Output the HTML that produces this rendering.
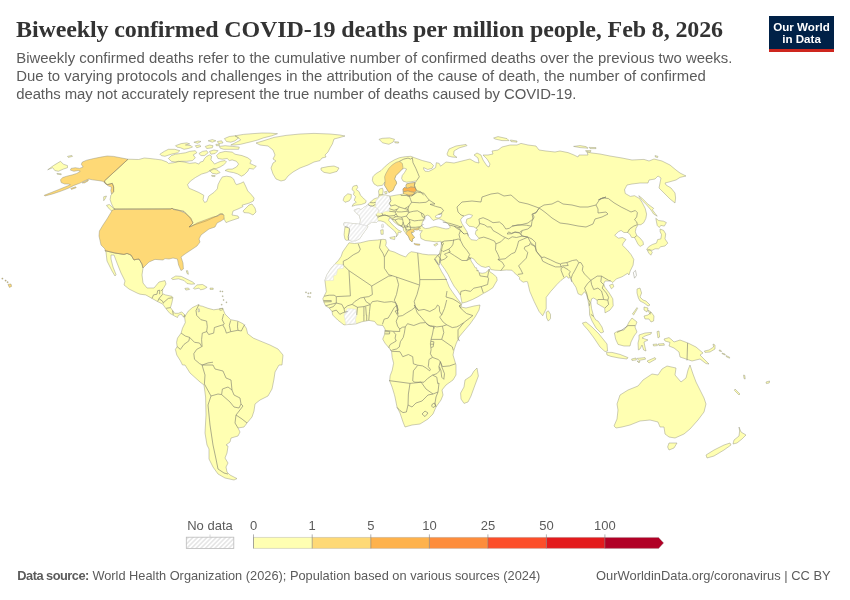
<!DOCTYPE html>
<html><head><meta charset="utf-8">
<style>
html,body{margin:0;padding:0;background:#fff;}
body{width:850px;height:600px;position:relative;overflow:hidden;font-family:"Liberation Sans",sans-serif;}
#title{position:absolute;left:16px;top:14.6px;letter-spacing:-0.12px;font-family:"Liberation Serif",serif;font-weight:bold;font-size:24px;color:#333;white-space:nowrap;line-height:28px;}
#sub{position:absolute;left:16.2px;top:49.4px;font-size:14.9px;line-height:18px;color:#5b5b5b;white-space:nowrap;}
#logo{position:absolute;left:769px;top:16px;width:65px;height:33px;background:#002147;border-bottom:3px solid #ce261e;color:#fff;font-weight:bold;font-size:11.6px;line-height:12px;text-align:center;}
#foot{position:absolute;left:17.3px;top:568.4px;font-size:12.8px;color:#5b5b5b;white-space:nowrap;}
#foot2{position:absolute;right:19.4px;top:568.4px;font-size:12.9px;color:#5b5b5b;white-space:nowrap;}
svg{position:absolute;left:0;top:0;}
</style></head><body>
<div id="title">Biweekly confirmed COVID-19 deaths per million people, Feb 8, 2026</div>
<div id="sub"><span id="s1" style="letter-spacing:0.019px">Biweekly confirmed deaths refer to the cumulative number of confirmed deaths over the previous two weeks.</span><br><span id="s2" style="letter-spacing:0.017px">Due to varying protocols and challenges in the attribution of the cause of death, the number of confirmed</span><br><span id="s3" style="letter-spacing:-0.054px">deaths may not accurately represent the true number of deaths caused by COVID-19.</span></div>
<div id="logo"><div style="margin-top:5px">Our World<br>in Data</div></div>
<svg width="850" height="600" viewBox="0 0 850 600">
<!--MAP-->
<g stroke="#8f8f7c" stroke-width="0.45" stroke-linejoin="round">
<path fill="#ffffb2" d="M47.7 169.8L53.4 165.6L60.5 161.3L63.3 164.2L67.5 165.6L67.5 167.7L63.3 169.1L58.3 171.3L54.8 170.5L52.7 167.7ZM67.5 156.4L71.8 155.4L72.5 156.4L68.3 157.4ZM56.9 173.4L61.2 173.8L61.2 174.7L57.2 174.2ZM128.0 159.2L138.7 159.5L144.3 158.0L150.0 158.5L155.7 159.2L161.3 159.9L167.0 162.0L168.4 163.4L174.1 162.7L178.3 161.3L184.0 162.0L189.7 163.4L195.3 162.7L198.9 164.1L200.3 162.0L203.1 161.3L204.5 158.5L206.7 156.3L209.5 154.9L211.6 156.3L210.9 159.9L213.0 162.0L214.5 164.1L217.3 162.7L220.8 161.3L225.1 160.6L226.5 162.0L223.7 164.8L220.1 167.0L216.6 168.4L213.8 169.1L210.9 170.5L206.7 172.6L201.7 174.0L195.3 177.6L190.4 181.1L187.5 184.7L189.0 188.2L193.9 190.3L198.9 192.5L203.8 195.3L203.1 199.6L204.5 202.4L206.7 201.7L208.8 196.0L213.8 192.5L217.3 188.9L218.0 184.7L220.1 180.4L222.3 176.9L226.5 176.2L230.8 176.9L233.6 179.0L235.0 182.5L236.4 184.7L240.7 183.3L243.5 181.8L245.6 186.1L247.8 191.0L251.3 194.6L254.1 198.1L253.4 201.0L249.2 203.1L242.1 205.2L243.0 206.6L238.0 209.0L233.0 211.0L232.0 215.0L238.0 216.0L239.0 218.0L230.0 221.0L226.0 222.6L224.0 219.0L223.0 214.0L220.0 214.0L217.0 216.0L206.0 221.0L194.0 225.0L189.0 227.0L193.0 223.0L190.0 218.0L184.0 211.4L173.0 209.0L172.0 208.0L171.0 209.0L114.0 209.0L115.0 209.5L113.6 208.1L111.5 203.8L110.1 199.6L110.8 195.3L113.6 191.8L113.6 186.8L112.2 183.3L110.1 184.0L107.2 184.7L105.1 183.3L104.4 180.9ZM243.0 211.0L249.0 205.0L252.0 204.0L255.0 208.0L256.0 212.0L253.0 215.0L249.0 213.0L244.0 212.6ZM103.7 196.8L106.5 196.0L105.1 198.9L103.7 200.7ZM106.5 205.3L109.3 204.5L115.0 209.5L114.3 212.3L110.8 210.2L107.9 207.4ZM345.0 136.0L338.0 138.0L334.0 139.0L332.4 144.0L330.0 148.0L328.0 152.0L325.0 155.0L326.0 157.0L322.0 158.0L320.0 160.6L314.0 162.0L308.0 165.0L300.0 168.0L293.0 172.0L288.0 176.0L285.0 180.0L281.0 181.0L276.0 179.0L273.0 174.0L271.0 168.0L273.0 163.0L276.0 161.0L273.0 159.0L275.0 155.0L273.0 150.0L268.0 146.0L260.0 145.0L256.0 143.0L264.0 140.6L274.0 137.4L286.0 135.4L300.0 134.0L314.0 133.4L330.0 134.0L340.0 135.0ZM321.0 168.0L328.0 166.6L334.0 166.0L339.0 168.0L337.0 171.4L330.0 173.4L324.0 172.4L321.0 170.0ZM105.0 250.6L115.0 253.0L124.0 254.4L127.0 253.4L131.0 255.0L134.0 260.0L136.0 259.4L139.0 259.0L142.0 264.0L143.0 268.0L142.0 275.0L143.0 283.0L147.0 288.0L154.0 288.0L159.0 282.0L165.0 280.6L166.0 284.0L163.0 289.0L161.0 291.0L162.7 289.2L162.4 293.5L165.5 294.9L171.9 296.3L172.9 297.7L171.9 302.7L170.5 307.6L172.6 310.5L174.7 313.3L178.3 313.3L181.8 311.9L184.6 314.7L185.3 315.7L184.6 317.1L183.2 316.8L181.1 314.0L178.3 315.4L177.5 317.5L174.7 316.1L169.8 313.3L166.2 309.0L162.7 304.1L157.0 301.3L152.0 298.4L145.7 294.9L140.0 294.2L137.0 293.0L129.0 289.0L124.0 285.0L125.0 281.0L121.0 273.0L117.0 263.0L114.0 255.0L111.0 255.0L111.0 259.0L113.0 267.0L116.0 274.6L115.0 276.0L112.0 271.0L109.0 265.0L107.0 261.0L106.0 252.0ZM185.3 315.7L188.2 311.2L192.4 307.6L196.7 305.5L198.8 304.4L199.8 305.8L202.3 306.2L208.0 308.3L213.7 309.8L219.3 309.0L222.9 308.3L223.6 310.5L225.0 314.0L230.7 319.7L237.8 321.1L243.4 323.9L246.3 328.2L247.7 333.8L253.3 338.1L260.0 340.9L270.0 345.0L278.0 349.0L283.0 355.0L282.0 365.0L279.0 365.0L275.0 372.0L274.0 379.0L272.0 389.0L268.0 396.0L260.0 400.0L255.0 404.0L254.0 411.0L252.0 417.0L247.0 423.0L244.0 427.0L238.0 428.0L240.0 432.0L238.0 436.0L231.0 438.0L230.0 442.0L226.0 445.0L228.0 446.0L227.0 453.0L225.0 458.0L228.0 463.0L226.0 467.0L227.0 472.0L230.0 475.0L237.0 478.6L234.0 480.0L225.0 478.0L218.0 474.0L213.0 467.0L209.0 459.0L209.0 449.0L207.0 445.0L205.0 433.0L206.0 415.0L205.6 397.0L204.0 385.0L200.0 382.0L190.0 373.0L185.0 365.0L182.5 365.0L180.4 360.8L176.8 355.1L175.4 349.4L177.1 346.6L176.6 342.3L177.5 338.1L181.1 333.1L182.5 328.2L185.3 322.5L184.6 317.1ZM349.0 242.8L354.7 243.5L360.3 242.8L368.8 240.7L377.3 240.0L383.0 239.3L385.8 239.7L386.3 242.8L385.6 245.6L388.7 249.5L389.4 250.6L394.3 252.0L400.0 254.8L405.7 257.0L408.5 253.4L411.3 251.7L417.0 252.7L422.7 254.1L428.3 254.8L435.0 254.8L437.9 255.0L439.3 254.0L438.0 255.0L434.8 258.9L438.4 265.3L441.7 271.7L444.9 277.0L447.1 281.8L449.2 287.1L452.4 291.9L456.7 297.8L460.4 302.6L461.7 303.9L461.0 307.0L466.0 308.0L474.0 306.0L480.0 305.0L479.0 310.0L475.0 317.0L470.0 324.0L464.0 331.0L459.0 337.0L456.0 344.0L454.0 350.0L453.0 355.0L456.0 365.0L456.0 375.0L453.0 380.0L446.0 385.0L442.0 390.0L443.0 395.0L441.0 400.0L436.0 407.0L433.0 414.0L428.0 419.0L420.0 424.0L412.0 425.0L405.0 427.0L403.0 422.0L400.0 413.0L397.0 407.0L395.0 397.0L394.3 394.3L392.2 387.3L389.7 380.9L390.1 375.9L392.2 370.3L393.6 363.2L392.2 357.5L391.5 351.1L388.7 347.6L385.1 343.3L382.7 339.1L384.4 334.8L385.1 329.2L383.0 325.6L377.3 324.9L374.5 321.4L368.8 320.4L361.8 321.8L356.1 323.8L344.0 324.9L337.7 320.0L332.7 315.0L332.0 311.5L329.2 308.0L325.6 305.8L324.2 303.0L322.8 298.8L324.2 295.9L326.3 291.7L325.6 286.0L324.9 280.3L327.0 274.7L330.6 269.0L334.8 264.0L338.4 260.5L341.2 256.3L342.6 252.0L345.5 247.8ZM477.0 368.0L478.4 376.0L475.0 385.0L471.0 396.0L468.0 402.0L464.0 403.4L461.0 399.0L460.6 393.0L464.0 387.0L465.0 380.0L471.0 376.0L474.0 371.0ZM351.4 241.0L348.7 240.1L346.3 240.3L345.0 239.3L344.1 234.8L344.5 230.5L345.0 226.8L343.7 224.7L344.1 222.8L348.7 223.1L354.6 223.7L359.9 224.3L360.5 219.9L359.4 215.6L355.7 212.4L354.1 210.3L356.7 209.2L358.9 208.7L361.0 209.7L363.7 207.6L366.3 206.0L367.9 204.4L370.1 202.3L373.8 199.1L376.5 198.0L378.1 198.0L379.0 195.0L378.5 191.0L379.7 188.9L382.5 188.2L383.2 191.0L382.5 194.5L387.5 195.5L390.3 196.2L396.7 195.0L400.9 194.5L403.5 193.8L403.0 191.7L403.0 188.9L404.5 187.5L406.6 188.2L405.9 186.0L406.6 183.9L410.1 183.2L415.1 182.5L416.5 181.1L415.1 181.1L410.8 181.8L406.6 182.2L403.0 181.1L401.6 178.3L402.3 175.4L404.5 172.6L406.6 169.0L404.5 168.3L402.3 169.0L399.5 171.9L396.0 175.4L394.5 179.0L396.0 181.1L396.7 183.2L394.5 186.8L393.1 190.3L388.9 192.4L386.8 188.9L384.6 185.3L385.1 181.8L382.5 185.3L377.5 186.0L374.0 183.9L372.3 180.4L372.9 176.8L375.4 174.0L381.1 170.5L385.3 166.2L389.6 162.7L394.5 159.8L399.5 157.7L405.2 156.7L410.8 156.3L414.4 157.7L422.2 160.5L430.7 162.7L433.5 165.5L432.1 168.3L427.8 169.5L423.6 167.6L423.6 169.0L425.0 171.2L428.6 171.5L432.1 169.8L435.6 167.6L436.3 162.7L439.2 163.4L440.6 166.2L446.0 162.0L454.0 163.0L462.0 161.0L470.0 159.0L475.0 162.0L479.0 163.0L478.0 158.0L474.0 155.0L477.0 153.0L481.0 155.0L483.0 160.0L487.0 166.0L489.0 167.0L490.0 164.0L487.0 159.0L483.0 155.0L488.0 155.0L493.0 154.0L492.0 151.0L498.0 150.0L502.0 147.0L510.0 145.0L517.0 145.0L521.0 143.4L528.0 145.0L536.0 146.0L539.0 150.0L546.0 151.0L555.0 152.0L560.0 151.0L568.0 152.6L574.0 155.0L578.0 157.0L579.0 155.0L588.0 155.0L587.0 152.0L592.0 153.0L600.0 154.0L610.0 156.0L622.0 158.0L632.0 160.0L644.0 159.4L649.0 161.0L654.0 159.0L662.0 161.0L670.0 165.0L676.0 170.0L680.0 173.0L686.0 176.0L680.0 177.4L676.0 180.0L669.0 182.0L665.0 183.0L666.0 185.0L671.0 188.0L675.0 193.0L675.6 198.0L675.0 203.0L670.0 199.0L664.0 193.0L659.0 188.0L660.0 183.0L661.0 178.0L658.0 176.0L655.0 179.0L649.0 180.0L648.0 183.0L640.0 183.0L632.0 184.0L627.0 185.0L624.4 190.0L624.6 190.0L625.3 193.5L630.3 196.4L634.5 195.7L639.5 198.5L642.3 202.8L645.2 208.4L646.6 214.1L645.9 218.3L643.8 222.6L640.9 224.7L638.1 224.7L636.0 228.3L635.3 231.8L636.7 235.3L640.2 238.2L643.0 241.7L643.5 244.5L640.2 246.4L638.1 244.5L636.0 240.3L634.5 237.5L631.7 237.5L629.6 233.9L627.5 232.5L623.9 232.5L621.1 230.4L618.3 231.8L614.7 235.3L618.3 238.2L622.5 237.5L626.0 239.6L623.2 243.1L622.5 245.3L626.8 249.5L631.0 254.5L633.8 259.4L633.1 265.1L630.3 270.8L628.9 275.0L627.7 273.3L622.0 276.8L616.3 278.9L612.8 282.5L610.7 281.0L605.0 281.0L603.6 283.9L605.0 287.4L609.3 293.1L612.8 298.8L613.2 305.8L610.0 310.1L605.0 312.9L604.7 308.0L600.8 305.8L597.2 303.7L597.2 300.2L593.7 298.0L591.6 298.8L590.8 302.3L591.6 308.7L593.7 316.5L595.8 320.0L598.0 321.0L602.0 327.0L603.6 332.0L601.0 333.0L596.0 328.0L592.0 321.0L589.6 315.0L589.4 308.7L588.0 300.2L586.6 294.5L584.5 291.7L581.6 295.2L578.1 293.8L576.0 287.4L572.4 281.8L570.3 277.5L568.2 278.2L566.8 276.1L563.9 278.2L561.1 280.3L556.8 284.6L550.5 291.7L546.2 297.3L546.2 308.7L542.7 315.8L539.1 311.5L534.2 301.6L529.9 291.7L529.2 288.9L528.2 284.6L527.5 281.8L526.1 281.5L523.2 282.2L521.1 280.8L519.3 279.0L519.7 277.6L518.3 276.2L516.2 274.4L514.1 272.6L511.9 270.2L506.3 270.0L500.6 270.5L495.0 270.2L490.8 269.5L489.2 266.3L485.4 267.4L481.2 266.3L476.9 263.1L473.7 258.9L471.1 257.8L470.5 258.6L471.1 261.0L473.2 264.2L475.3 267.9L476.4 267.7L477.5 271.1L478.0 270.1L479.1 272.7L482.2 273.3L485.4 272.7L488.1 270.6L489.2 269.0L489.7 271.7L492.9 273.8L496.6 277.0L497.2 280.2L495.0 283.9L492.9 287.7L488.1 290.9L483.3 293.5L478.0 296.7L472.7 299.4L466.3 302.0L462.0 303.1L461.5 300.4L460.4 295.1L457.7 290.9L454.0 286.1L450.8 280.2L448.1 274.6L444.7 269.1L441.9 265.3L440.6 263.3L440.4 259.4L439.9 259.4L439.3 265.3L435.0 258.6L438.0 255.0L440.0 254.0L439.3 254.0L441.0 247.6L441.5 242.6L440.8 241.2L436.5 241.9L430.8 241.2L425.2 240.5L420.9 238.4L420.2 234.1L422.3 230.6L419.5 230.8L418.8 229.2L417.1 229.9L414.8 229.6L413.6 230.1L414.1 231.5L413.1 232.5L411.7 231.8L411.5 233.2L412.6 235.1L413.8 236.5L414.5 237.6L413.6 238.4L412.4 238.8L412.6 240.7L412.2 241.6L411.0 241.2L409.8 239.8L409.1 237.9L408.2 236.0L407.0 234.8L406.1 233.6L404.7 231.8L403.6 230.5L403.1 227.3L400.4 225.7L398.3 225.2L394.1 222.0L391.9 219.3L390.3 217.9L389.3 218.3L388.7 220.4L391.9 224.1L395.1 227.3L398.3 230.0L401.5 231.6L400.4 232.7L398.3 232.1L397.8 234.8L396.2 236.9L396.7 234.3L394.6 231.1L390.9 227.9L387.1 224.7L384.5 222.0L380.7 220.9L378.1 220.9L376.5 222.5L371.7 222.0L366.9 225.7L367.9 226.8L365.3 230.5L362.1 234.8L359.9 238.5L355.7 240.7ZM353.5 186.0L357.0 185.3L357.7 187.5L356.3 189.6L359.1 191.7L360.5 195.3L363.4 198.1L366.2 200.9L365.5 203.0L361.3 204.5L355.6 205.2L352.0 206.3L353.5 203.8L356.3 202.3L354.2 200.2L355.6 196.7L353.5 194.5L354.2 191.7L352.0 189.6L352.5 187.5ZM344.3 196.7L347.8 193.8L351.3 194.5L351.1 198.1L349.2 200.9L345.0 202.3L343.1 200.2ZM379.0 139.3L382.5 142.8L388.9 144.3L393.1 142.1L394.5 139.3L389.6 137.9L382.5 138.3ZM394.5 141.7L398.8 142.0L398.4 143.1L395.0 142.8ZM447.0 154.0L449.0 149.0L456.0 146.0L466.0 144.4L467.0 145.6L459.0 148.0L454.0 151.0L453.6 155.0L457.0 157.4L452.0 157.0L448.0 156.0ZM493.6 138.0L498.0 136.6L507.0 138.6L509.0 140.6L502.0 140.6L495.0 139.0ZM510.4 140.0L517.0 141.0L517.0 142.2L511.0 141.6ZM573.6 146.4L580.0 145.6L586.0 146.6L588.0 148.2L580.0 147.6ZM589.0 147.4L596.0 147.6L596.0 148.6L590.0 148.6ZM585.6 150.6L591.0 150.6L590.4 152.0L586.0 151.6ZM655.0 155.6L658.0 156.4L657.6 157.6L655.4 157.0ZM638.8 195.7L642.3 198.5L648.0 204.2L653.7 208.4L652.3 209.8L655.1 213.4L657.2 216.2L653.7 214.1L650.8 209.8L646.6 204.9L642.3 200.6L639.5 197.1ZM655.8 218.3L658.6 220.5L663.6 221.2L666.4 222.6L664.3 226.1L660.8 225.4L659.3 227.5L657.2 225.4L656.5 221.9ZM660.1 229.0L663.6 230.4L665.7 233.9L665.0 238.9L667.8 243.1L665.0 246.0L660.8 246.7L658.6 248.8L655.1 248.8L652.3 250.2L649.4 250.2L646.6 249.5L648.7 246.7L652.3 244.5L656.5 243.1L657.6 239.6L660.8 238.9L661.5 234.6L660.1 231.8ZM647.3 250.2L650.1 249.5L652.3 252.3L650.8 255.2L648.7 253.0ZM609.5 285.3L612.8 283.9L613.8 286.7L611.4 288.8ZM546.2 312.2L548.3 310.8L550.5 314.3L550.5 318.6L548.3 321.1L546.6 317.9ZM582.4 323.0L586.0 322.0L592.0 327.0L599.0 334.0L603.0 339.0L607.0 344.0L607.6 351.0L605.0 351.6L600.0 347.0L594.0 338.0L588.0 330.0L584.0 325.6ZM606.4 352.4L612.0 352.4L620.0 354.4L628.0 357.6L627.0 359.0L619.0 358.0L611.0 356.4L607.0 355.0ZM631.6 359.0L636.0 358.0L636.4 360.0L632.0 360.4ZM637.0 358.4L645.0 357.6L645.6 359.2L639.0 360.4ZM637.0 361.0L640.0 361.6L639.0 363.0ZM647.0 361.0L655.0 357.6L656.0 359.0L649.0 363.0ZM614.4 333.0L618.0 331.0L624.0 330.0L627.0 326.0L629.0 322.0L632.0 318.0L637.0 322.0L635.0 327.0L637.0 332.0L634.0 336.0L631.0 342.0L630.0 346.0L624.0 346.0L618.0 344.4L615.6 339.0ZM639.0 335.0L645.0 333.0L651.6 332.4L651.0 334.0L645.0 336.0L642.0 338.0L648.0 340.0L644.0 342.0L645.0 347.0L646.0 351.0L643.6 350.0L642.0 345.0L640.0 349.0L638.4 350.0L638.0 343.0L639.0 339.0ZM657.0 331.6L659.0 331.0L659.6 337.0L658.0 338.0ZM653.0 344.4L657.0 344.0L657.4 345.6L653.6 346.0ZM658.0 344.0L664.0 343.6L664.4 345.2L659.0 345.6ZM664.0 339.0L669.0 337.6L672.0 340.0L674.0 342.0L680.0 340.0L688.0 343.0L696.0 347.0L703.0 353.0L700.0 355.0L705.0 360.0L709.0 364.0L706.0 363.6L700.0 359.0L692.0 361.0L686.0 359.0L680.0 357.0L679.0 352.0L674.0 348.0L669.0 346.0L670.0 342.4L665.0 341.0ZM704.4 351.0L709.0 350.0L713.6 347.0L713.0 344.0L715.0 345.0L715.0 349.0L710.0 352.0L705.0 352.4ZM719.0 350.0L721.0 350.4L721.6 351.6L719.6 351.2ZM722.0 353.0L725.0 354.0L725.2 355.0L722.4 354.0ZM726.0 355.6L729.6 357.2L729.6 358.2L726.4 356.8ZM637.0 289.0L640.0 288.0L641.6 293.0L640.0 297.0L643.0 300.0L646.0 301.0L650.0 305.0L648.0 306.0L644.0 303.0L640.0 301.0L638.4 298.0L637.0 293.0ZM644.0 307.0L648.0 308.0L647.0 312.0L644.0 310.0ZM648.0 310.0L651.0 312.0L650.0 314.4ZM644.0 316.0L648.0 315.0L651.0 312.0L654.0 316.0L653.6 321.0L651.0 322.0L649.0 319.0L645.0 319.0ZM632.4 314.0L637.0 307.6L637.6 308.4L633.6 315.0ZM614.0 426.0L617.0 419.0L618.0 410.0L617.0 404.0L620.0 395.0L628.0 390.0L638.0 386.0L643.0 380.0L652.0 374.0L658.0 375.0L662.0 369.0L667.0 366.0L676.0 368.0L675.0 375.0L681.0 382.0L686.0 378.0L688.0 370.0L690.0 365.0L693.0 374.0L696.0 382.0L700.0 390.0L704.0 398.0L706.0 404.0L704.0 412.0L698.0 420.0L690.0 429.0L684.0 434.0L675.0 438.0L669.0 437.0L665.0 434.0L664.0 427.0L660.0 427.0L658.0 422.0L650.0 420.0L640.0 421.0L630.0 425.0L622.0 427.0L616.0 428.0ZM669.0 443.0L677.0 443.0L674.0 448.0L669.0 450.0L667.6 447.0ZM739.0 427.0L741.0 432.0L746.0 435.0L742.0 439.0L737.0 443.0L733.0 444.0L734.0 440.0L739.0 436.0L739.6 431.0ZM730.0 443.0L731.0 445.0L724.0 450.0L714.0 456.0L707.0 458.0L706.0 455.0L714.0 450.0L724.0 445.0ZM735.0 389.0L740.0 394.0L739.0 395.0L734.4 390.4ZM743.6 375.0L744.8 375.4L745.2 379.0L744.0 378.6ZM766.0 382.0L769.6 381.0L769.2 383.0L766.4 383.6ZM389.8 237.5L395.1 236.4L394.6 239.6L390.3 238.5ZM380.7 230.0L383.2 229.7L383.2 234.3L381.0 234.3ZM381.8 224.7L382.9 224.1L383.2 227.3L382.1 227.9ZM433.7 244.8L437.2 243.3L437.9 244.3L435.1 246.2ZM384.6 191.7L386.8 191.3L387.0 193.6L385.1 193.8ZM216.6 155.6L219.4 152.8L225.1 151.4L232.2 152.1L235.0 154.2L242.1 155.6L247.8 157.8L251.3 160.6L249.9 163.4L256.3 166.3L253.4 169.1L249.2 168.4L247.8 171.2L244.2 174.8L241.4 176.2L237.8 174.0L233.6 172.6L229.3 171.9L225.1 170.5L227.9 169.1L232.2 169.1L236.4 167.0L238.6 164.1L236.4 161.3L232.2 159.9L229.3 160.6L227.2 158.5L222.3 159.2L218.0 158.5ZM168.4 158.5L171.3 155.6L175.5 154.2L180.5 153.5L185.4 152.8L189.7 151.4L195.3 150.7L196.8 152.8L193.2 154.9L195.3 157.8L192.5 160.6L186.8 161.3L181.2 161.3L175.5 162.0L171.3 161.3ZM159.9 154.2L164.2 151.4L168.4 149.3L174.8 149.3L179.8 150.7L177.6 152.8L171.3 154.2L164.9 156.3L161.3 155.6ZM175.5 145.7L181.2 143.6L186.8 142.9L189.7 143.9L185.4 145.0L191.1 145.7L192.5 147.1L188.3 148.5L184.0 149.3L180.5 147.8L176.9 147.1ZM193.9 142.2L198.2 141.0L201.0 141.5L197.5 143.3ZM195.3 145.7L199.6 145.0L201.0 146.4L196.8 147.8ZM205.3 146.4L209.5 145.0L213.0 145.7L212.3 147.8L206.7 148.5ZM198.9 153.5L202.4 151.4L206.7 150.7L208.1 152.8L204.5 155.6L201.0 155.6ZM209.5 151.4L213.8 150.0L218.0 150.7L215.2 153.5L210.9 154.2ZM219.4 146.4L225.1 145.7L232.2 146.4L239.3 147.1L238.6 149.3L230.8 149.3L223.7 149.3L220.1 148.1ZM224.4 138.6L229.3 136.5L235.0 135.8L238.6 137.9L235.0 140.8L230.8 142.2L226.5 141.5ZM235.0 135.8L243.5 134.4L252.0 133.7L261.9 133.0L270.4 133.1L277.5 133.7L271.8 135.8L263.3 137.9L257.7 140.0L252.0 141.5L246.3 142.9L240.7 144.3L235.0 145.0L230.8 145.0L236.4 142.2L240.7 140.0L238.6 137.9ZM208.1 140.8L212.3 139.6L215.9 140.8L212.3 142.2ZM217.3 141.5L221.6 140.8L223.0 142.9L218.7 143.6ZM215.9 144.3L219.4 144.3L219.4 145.7L216.3 145.7ZM209.5 170.5L213.8 168.4L218.0 170.5L220.1 172.6L216.6 174.0L212.3 173.3ZM211.6 175.3L215.2 175.6L214.9 176.6L211.9 176.3ZM171.4 278.5L175.7 276.0L181.3 276.4L187.0 279.2L192.7 282.0L194.8 283.9L191.3 284.2L187.0 283.5L184.2 280.6L178.5 278.8L172.8 279.6ZM193.4 288.4L196.9 284.9L202.6 284.5L207.1 287.3L204.0 289.1L200.5 289.8L199.0 288.1L194.8 289.1ZM184.9 288.4L188.4 288.0L189.6 289.4L185.9 290.1ZM210.0 288.1L213.2 288.1L213.2 289.4L210.1 289.4ZM186.3 270.7L187.7 270.7L188.4 274.3L187.0 273.5ZM219.6 308.5L222.7 308.3L222.4 310.1L219.9 310.4ZM219.9 290.9L220.7 290.9L220.7 291.7L219.9 291.7ZM222.0 291.1L222.8 291.1L222.8 291.9L222.0 291.9ZM222.3 295.8L223.1 295.8L223.1 296.6L222.3 296.6ZM223.2 299.6L224.0 299.6L224.0 300.4L223.2 300.4ZM226.0 301.9L226.8 301.9L226.8 302.7L226.0 302.7ZM221.3 304.3L222.1 304.3L222.1 305.1L221.3 305.1ZM305.6 291.9L306.4 291.9L306.4 292.8L305.6 292.8ZM307.9 292.9L308.8 292.9L308.8 293.8L307.9 293.8ZM310.2 292.6L311.1 292.6L311.1 293.4L310.2 293.4ZM307.6 296.2L308.4 296.2L308.4 297.1L307.6 297.1ZM309.6 296.6L310.4 296.6L310.4 297.4L309.6 297.4Z"/>
<path fill="#fff" d="M198.1 309.0L199.2 308.8L199.6 311.5L198.4 312.0ZM425.5 215.9L427.6 215.2L429.7 216.2L431.5 218.7L433.2 220.5L436.1 219.4L438.9 218.7L441.7 219.8L444.5 221.2L447.3 223.3L449.5 225.4L450.2 227.2L448.8 228.6L445.9 228.9L442.4 228.2L438.9 227.2L435.3 226.5L431.8 227.2L429.0 228.2L425.5 228.6L423.0 227.5L421.6 225.4L422.3 222.6L423.7 219.8L424.4 217.3ZM435.0 216.6L436.8 215.2L439.6 214.1L441.7 213.1L441.7 215.2L440.6 217.3L438.2 218.0L436.1 217.6ZM460.5 219.8L463.3 216.3L469.0 214.2L472.5 215.3L471.1 217.7L466.8 219.1L466.1 222.7L469.0 226.2L473.9 226.9L476.0 228.3L477.9 230.0L476.0 230.5L475.3 234.0L478.9 238.3L476.8 240.4L471.1 239.7L468.3 236.1L467.1 231.9L464.0 226.9L461.9 223.4ZM633.3 272.5L635.5 270.4L636.5 275.4L634.5 278.2Z"/>
<path fill="url(#hm)" stroke="#dcdcdc" d="M334.8 264.0L343.3 264.8L343.3 268.3L337.7 269.0L336.3 274.7L333.4 276.1L333.4 280.3L324.9 280.6L327.0 274.7L330.6 269.0ZM344.0 315.0L345.5 322.8L345.9 324.4L356.1 323.5L355.4 319.3L356.8 315.0L356.1 309.3L347.6 308.6L345.5 312.2ZM348.7 223.1L354.6 223.7L359.9 224.3L366.9 225.7L367.9 226.8L365.3 230.5L362.1 234.8L359.9 238.5L355.7 240.7L351.4 241.0L348.7 240.1L348.2 236.9L349.1 232.7L349.5 228.9L348.0 227.3L345.0 226.8L343.7 224.7L344.1 222.8ZM367.9 204.4L371.7 206.0L375.9 207.6L378.6 209.7L377.5 212.9L375.9 214.5L377.5 217.7L378.1 220.9L376.5 222.5L371.7 222.0L366.9 225.7L359.9 224.3L360.5 219.9L359.4 215.6L355.7 212.4L354.1 210.3L356.7 209.2L358.9 208.7L361.0 209.7L363.7 207.6L366.3 206.0ZM381.8 224.7L382.9 224.1L383.2 227.3L382.1 227.9ZM375.9 200.7L378.1 198.0L380.7 195.9L385.0 195.3L389.8 196.4L390.9 200.7L389.3 203.3L390.9 206.0L389.3 208.7L389.3 211.3L385.5 211.3L381.8 212.9L378.6 212.9L378.6 209.7L375.9 207.6L375.4 204.4Z"/>
<path fill="#fed976" d="M128.0 159.2L120.7 157.8L113.6 156.4L107.2 156.0L100.8 157.1L93.8 158.5L86.7 160.2L82.4 162.0L81.3 164.2L83.1 167.0L79.6 168.4L75.3 167.7L71.1 168.4L70.4 170.1L73.9 171.3L78.2 170.5L80.3 171.3L76.8 173.4L72.5 174.8L66.8 176.2L62.6 177.6L60.5 179.8L61.2 182.6L64.7 184.0L68.3 184.0L70.4 184.7L65.4 186.8L58.3 189.7L51.3 192.5L44.2 195.3L44.9 196.0L52.7 193.9L61.2 191.1L68.3 188.3L73.9 185.4L79.6 183.3L85.3 180.5L88.8 179.0L92.3 179.8L98.0 180.5L102.3 181.2L105.1 182.6L107.2 184.7L110.1 184.0L112.2 183.3L113.6 186.8L113.6 191.8L111.5 193.9L110.8 190.4L111.5 187.1L108.6 186.1L105.1 183.3L104.4 180.9ZM82.1 182.9L86.0 180.9L88.4 179.8L88.1 180.9L84.5 182.9ZM70.8 188.5L75.6 186.8L76.2 187.7L71.4 189.4ZM114.0 209.4L171.0 209.0L172.0 208.0L173.0 209.4L179.0 210.6L185.0 213.0L191.0 218.0L193.0 223.0L189.0 227.0L191.0 226.6L197.0 223.0L205.0 220.0L213.0 217.0L218.0 216.0L221.0 214.0L224.0 215.0L224.0 219.0L221.0 221.0L217.0 223.0L215.0 227.0L209.0 229.0L205.0 232.0L201.0 235.0L199.0 239.0L200.0 242.0L197.0 246.0L191.0 250.0L185.0 254.0L181.0 257.0L183.0 263.0L183.4 269.0L181.0 270.6L178.6 265.0L177.4 259.0L173.0 258.0L169.0 259.0L165.0 258.6L163.0 260.0L155.0 259.4L149.0 262.0L144.0 267.0L143.0 268.0L142.0 264.0L139.0 259.0L136.0 259.4L134.0 260.0L131.0 255.0L127.0 253.4L124.0 254.4L115.0 253.0L105.0 250.6L105.0 249.0L101.0 245.0L99.0 236.0L99.4 231.0L103.0 225.0L107.0 219.0L110.0 214.0L112.0 210.6ZM8.0 284.4L11.0 284.0L11.6 286.4L9.4 287.4ZM414.1 243.3L415.7 243.8L418.1 244.0L419.9 244.2L419.7 245.2L417.6 245.2L415.2 244.7L414.3 244.2ZM388.9 192.4L386.8 188.9L384.6 185.3L385.1 181.8L384.6 176.8L386.0 173.3L388.9 168.3L392.4 164.8L396.0 162.4L399.5 161.3L402.3 163.4L403.0 167.6L402.3 169.0L399.5 171.9L396.0 175.4L394.5 179.0L396.0 181.1L396.7 183.2L394.5 186.8L393.1 190.3ZM406.6 183.9L410.1 183.2L415.1 182.5L414.4 185.3L415.1 187.5L410.8 187.0L408.0 188.2L406.6 188.2L405.9 186.0ZM403.5 191.7L408.0 190.7L410.8 191.7L414.4 192.1L413.7 194.5L411.6 196.0L408.7 196.4L406.6 194.5L403.5 193.8ZM406.1 233.6L407.2 231.3L409.1 230.1L411.5 229.2L413.8 228.7L416.2 228.7L418.1 227.8L418.8 227.5L418.8 229.2L417.1 229.9L414.8 229.6L413.6 230.1L414.1 231.5L413.1 232.5L411.7 231.8L411.5 233.2L412.6 235.1L413.8 236.5L414.5 237.6L413.6 238.4L412.4 238.8L412.6 240.7L412.2 241.6L411.0 241.2L409.8 239.8L409.1 237.9L408.2 236.0L407.0 234.8ZM1.9 278.1L2.9 278.1L2.9 279.1L1.9 279.1ZM5.1 280.1L6.1 280.1L6.1 281.1L5.1 281.1ZM7.1 281.7L8.1 281.7L8.1 282.7L7.1 282.7Z"/>
<path fill="#feb24c" d="M403.0 188.9L404.5 187.5L406.6 188.2L408.0 188.2L410.8 187.0L415.1 187.5L416.5 190.3L414.4 192.1L410.8 191.7L408.0 190.7L403.5 191.7Z"/>
<path fill="none" stroke="#828272" stroke-width="0.65" d="M152.0 298.4L153.5 294.9L157.0 294.2L157.7 290.6L159.8 290.2M159.8 290.2L159.6 294.2M162.7 294.2L159.1 298.4L157.7 301.3M159.1 298.7L162.7 301.3L163.4 303.4M163.4 302.7L168.3 298.4L172.6 297.7M166.2 308.3L170.5 307.6M172.6 310.5L173.3 314.7M184.6 314.7L183.9 317.1M198.8 304.8L196.0 310.5L196.7 315.4L200.9 319.7L206.6 321.1L207.3 326.8L206.6 331.7L202.3 333.1L201.6 339.5L202.1 346.6M206.6 331.3L208.7 334.5L213.7 333.1L214.4 327.5L222.9 324.8M223.6 314.0L222.2 319.7L224.3 323.9L222.9 325.1L225.0 328.9L226.4 333.1L230.7 331.7L237.8 330.3L241.3 331.0L243.4 326.8L244.8 324.6M230.7 320.4L229.3 325.3L230.7 331.6M237.8 321.4L237.5 326.8L238.0 330.3M181.1 333.1L185.3 336.0L189.6 337.4M177.1 346.6L180.4 349.4L183.9 344.5L188.9 340.9L189.6 337.4L194.5 342.3L199.5 343.0L201.8 346.6M201.8 346.6L196.7 349.4L193.8 353.7L194.5 359.3L199.5 363.6L202.3 365.0L208.0 362.9L213.0 362.2M202.0 365.0L213.0 365.0L215.0 369.0L223.0 371.0L226.0 378.0L231.0 380.0L232.0 390.0L234.0 395.0L240.0 398.0L241.0 404.0L243.0 406.0L236.0 415.0L235.0 423.0L238.0 428.0M202.0 365.0L205.0 375.0L204.4 384.0M204.4 384.0L211.0 396.0L218.0 394.0L221.6 394.6L222.4 389.0L228.0 387.0L232.0 390.0M221.6 394.6L230.0 402.0L234.0 407.0L239.0 408.0L241.0 404.0M236.0 415.0L242.0 419.0L247.0 423.0M211.0 396.0L208.0 405.0L210.0 425.0L213.0 445.0L216.0 459.0L218.0 469.0L224.0 473.0L228.0 474.0M358.2 243.8L360.3 249.2L358.9 252.0L353.3 254.8L347.6 259.1L343.3 261.2L343.3 265.0L349.0 270.7L371.7 286.0L388.7 276.1L392.2 275.7M349.0 270.7L350.4 295.9L336.3 296.6L334.1 295.2L329.2 295.2L324.2 296.2M380.9 239.7L379.5 247.8L383.0 253.4L384.4 257.0L388.7 249.5M384.4 257.0L384.4 268.3L388.7 274.7L392.2 275.7L396.5 277.1L419.1 284.9M417.7 253.0L419.8 279.6L419.6 284.9M419.8 279.6L435.0 279.6L447.0 279.4M396.5 277.1L398.6 284.6L396.5 294.5L394.3 300.2L395.8 303.0M371.7 286.0L372.4 294.5L368.8 296.6L363.9 297.3L360.3 298.0L354.7 301.6L352.1 304.4M395.8 302.7L391.5 301.6L384.4 302.3L377.3 300.9L372.4 301.6L370.3 304.4L366.0 301.6L363.9 297.3M419.6 284.9L417.0 294.5L414.2 301.6L415.6 307.3L418.4 310.4M370.3 304.4L369.5 311.5L368.8 320.0L368.8 320.4M418.4 310.4L424.1 309.4L429.8 311.5L435.0 308.7M325.6 305.8L330.6 304.4L336.3 303.0L336.3 296.9M323.5 300.6L331.3 300.6L331.3 301.7L323.8 301.9M329.2 308.0L333.4 306.6L336.3 303.0L341.9 304.4L344.0 308.7L344.8 312.2L347.6 311.5M332.0 311.5L336.3 310.1L339.8 314.3L342.6 312.9L344.8 312.2M344.0 308.7L347.6 305.8L352.1 304.4L357.5 307.3L363.9 306.6L370.0 304.7M357.5 307.3L356.8 314.3L356.8 315.0M363.9 306.6L363.9 315.1L363.9 315.0L363.9 321.0M365.7 306.6L366.3 315.1L366.7 315.0L366.7 320.7M435.1 308.6L436.0 307.8L437.5 305.0L439.3 306.4L439.6 311.3L441.7 314.9L444.5 308.5L446.0 302.8L446.7 300.0M441.7 314.9L439.6 317.0L443.1 322.0L446.7 324.8L442.4 326.2L436.8 326.9L433.9 326.2L430.4 326.2L426.1 323.4M446.7 324.8L452.3 327.6L456.6 326.9L459.4 325.5L463.7 322.7L469.3 318.4L472.9 315.6L466.5 313.5L462.3 309.9L460.1 307.1L459.4 305.0M446.0 297.0L453.0 299.0L458.0 302.0L461.0 304.4M447.0 291.0L446.0 297.0M461.0 304.4L459.4 306.6L461.0 308.2M463.7 322.7L458.0 329.8L458.0 338.3L459.4 341.1M442.4 326.2L443.8 332.6L441.7 339.4L452.3 346.8L453.3 350.3M433.9 326.2L432.5 334.0L431.1 339.4L441.7 339.4M431.1 339.4L430.4 343.9L431.1 349.6L430.4 353.8L432.5 357.4L438.2 359.5L440.3 361.6L442.4 366.6L449.5 365.9L455.5 363.8M431.1 341.4L433.9 341.8L433.2 346.8L431.1 347.5M430.8 344.2L433.6 344.2M432.5 357.4L429.0 359.5L428.3 366.6L430.4 369.4L429.7 370.8L426.1 368.0L422.6 365.9L417.6 365.2L413.4 363.8L412.7 356.7L408.4 354.5L402.8 356.7L399.9 351.7L392.1 351.3M417.6 365.5L413.4 370.8L412.7 380.8L414.8 382.2L424.0 382.2L427.5 378.6L432.5 375.1L436.8 373.7L439.6 370.8L438.9 366.6L440.3 361.6M440.3 361.6L441.7 366.6L444.5 373.7L443.8 379.3L441.7 377.2L441.0 370.8L439.3 366.6M432.5 375.1L436.8 377.2L437.7 383.6L439.0 383.0L438.0 392.0L436.0 397.0L435.0 403.0L436.0 407.0M389.0 380.6L410.0 383.4L418.0 382.6L421.0 382.0L426.0 389.0L433.0 394.0L438.0 392.0M410.0 383.4L408.4 394.0L408.0 405.0L406.4 412.0L403.0 412.6L400.0 410.6L397.0 407.4M408.0 405.0L412.0 407.0L416.0 403.0L422.0 401.0L428.0 395.0L433.0 394.0M432.4 404.0L434.4 403.0L435.6 406.0L433.0 407.6L431.6 406.0L432.4 404.0M422.0 414.0L425.0 411.0L428.0 413.0L425.0 416.6L422.0 414.0M390.0 349.6L392.1 351.3M382.4 324.4L384.2 319.1L388.1 318.1L390.5 314.2L394.1 307.8L396.9 305.0L395.8 303.0M396.9 305.0L398.3 310.3L395.1 311.0L398.3 316.3L396.2 321.2L397.6 326.2L399.7 329.0L399.7 331.5L393.3 331.3L384.9 330.4M398.3 316.3L402.5 315.6L406.8 312.8L411.7 309.9L415.2 307.1L414.2 305.0L418.4 310.4M415.2 307.1L417.3 312.8L421.6 317.7L425.8 322.6L420.2 323.0L413.8 325.5L407.5 323.7L405.3 326.9L402.5 327.2L399.7 329.0M405.3 326.9L404.3 333.2L403.2 337.5L400.4 341.7L399.3 347.0L396.5 349.0L392.2 350.0M393.3 331.5L395.8 334.6L395.1 338.2L396.2 341.0L392.6 343.1L390.2 344.5L389.1 346.6L389.0 347.9M384.9 331.7L389.8 331.7L389.5 333.9L384.9 333.9M396.9 305.0L397.9 314.3L397.2 308.7L395.8 303.0M425.8 322.6L428.6 325.5L432.2 326.2L435.0 328.3M617.0 332.4L622.0 330.0L628.0 325.6L635.0 325.6M687.6 343.0L687.0 360.4M399.5 161.3L403.8 159.1L408.0 158.1L410.8 159.1L412.3 157.7M412.3 157.7L413.0 162.7L415.8 168.3L417.9 173.3L419.3 176.8L416.5 180.8M400.9 194.5L401.2 195.5L406.3 195.5L408.7 196.4M415.1 182.5L414.4 185.3L415.1 187.5L416.5 190.3M379.0 195.0L382.5 194.7M367.9 204.4L370.1 206.0L372.7 206.0L375.4 204.4M370.1 202.6L373.3 202.8L375.7 202.3M375.9 214.5L377.5 216.1L380.2 216.1L382.9 215.1L381.8 212.9M389.3 211.3L395.1 211.9L396.2 214.0L394.1 215.6L388.7 216.1L385.0 215.1L382.9 215.1M377.5 217.7L380.2 216.1L385.0 215.1L388.7 216.1L390.3 217.9M389.8 196.4L390.9 200.7L389.3 203.3L390.9 206.0M390.9 206.0L395.1 204.9L399.4 207.1L404.7 208.7L409.0 206.0L411.6 202.3L410.6 199.6L409.0 195.3L406.3 194.8M389.3 208.7L394.1 210.3L397.2 209.2L399.4 207.1M396.2 210.8L397.2 211.9L401.5 211.9L406.8 211.3L407.9 209.2L404.7 208.7M395.1 211.9L396.2 210.8L397.2 209.2M396.2 214.0L397.8 216.7L401.5 217.2L406.3 216.1L409.0 212.4L406.8 211.3M390.3 217.9L393.0 218.3L395.7 216.7L394.1 215.6M395.7 216.7L397.8 216.7M391.9 219.3L395.1 219.9L398.3 218.8L402.6 219.3L401.5 217.2M395.1 219.9L397.2 223.1L400.4 225.7L402.6 225.2L403.1 222.0L402.6 219.3M406.3 216.1L409.0 219.3L410.0 222.0L407.9 224.1L406.8 226.3L404.2 225.7L403.1 222.0M400.4 225.7L403.1 227.3L404.7 226.8L404.2 225.7M404.7 226.8L405.8 228.9L406.3 231.6M405.8 228.9L407.4 230.0L410.6 229.5L410.6 227.3L406.8 226.3M404.7 226.8L406.3 227.9L407.9 226.8L406.8 225.7M409.0 212.4L413.2 211.3L417.5 210.8L421.2 212.9L422.3 216.7L424.4 217.7L425.0 219.3M409.0 219.3L411.1 219.9L414.3 220.9L418.6 220.4L424.4 219.9M421.2 212.9L423.4 214.0L425.0 217.2L424.4 217.9M410.0 222.0L409.5 224.7L410.6 227.3L415.4 227.3L419.6 226.8L421.8 225.7L423.4 224.1M419.6 226.8L420.2 228.9M409.0 195.3L413.2 194.8L417.5 192.1L423.9 193.2L427.1 197.5L429.2 200.1L426.0 202.3L419.6 202.8L411.6 202.3M429.2 200.1L435.0 203.9L430.0 204.3L435.7 206.4L441.3 207.8L443.5 210.6L440.6 214.2L438.5 214.2M409.0 206.0L407.9 209.2L409.0 212.4M411.6 196.0L413.7 194.5L416.5 190.7L420.8 191.7L423.6 195.3M345.0 226.8L348.0 227.3L349.5 228.9L349.1 232.7L348.2 236.9L348.7 240.1M464.0 216.0L461.0 215.0L458.0 212.0L457.0 207.0L462.0 202.0L472.0 201.0L481.0 202.0L482.0 197.0L491.0 194.0L498.0 193.0L504.0 196.0L511.0 195.0L519.0 202.0L528.0 204.0L539.0 208.0M539.0 208.0L536.0 213.0L532.0 214.0L533.0 219.0L528.0 223.0L520.0 225.0L512.0 226.0M539.0 208.0L544.0 205.0L552.0 204.0L558.0 201.0L563.0 204.0L572.0 205.0L580.0 207.0L588.0 207.0L596.0 205.0L598.0 209.0L598.0 213.0L606.0 212.0L608.0 214.0L602.0 217.0L595.0 219.0L593.0 224.0L586.0 227.0L578.0 226.0L568.0 224.0L560.0 223.0L552.0 218.0L546.0 213.0L542.0 210.0L539.0 208.0M596.0 205.0L600.0 199.0L606.0 197.0L598.4 199.9L602.7 197.8L608.3 198.5L614.0 202.8L621.1 207.0L626.8 209.8L631.0 212.0L635.3 210.5L637.4 212.7L636.7 216.9L634.5 219.8L636.7 221.9L637.4 224.7M627.5 232.5L629.6 229.0L633.8 226.1L637.4 224.7M634.5 237.5L636.7 235.6M441.3 242.5L444.2 241.1L452.7 240.4L458.3 239.0L460.5 240.4M448.4 224.8L454.1 226.2L456.9 228.3L460.5 230.5L459.0 234.7L460.5 240.4M442.8 222.0L449.8 223.4L456.9 225.5L460.5 226.9L462.3 226.2M454.1 226.2L458.3 227.6L461.9 227.2M458.3 227.6L461.9 231.9L464.0 234.0L467.5 233.3L468.3 235.7M460.5 230.5L464.0 234.0M460.5 240.4L463.3 246.0L466.8 250.3L469.7 254.5L468.3 257.4L471.1 258.4M478.9 238.3L483.8 237.1L489.5 239.0L494.5 241.1L495.9 243.9L495.5 249.6L498.0 254.5L499.4 258.1L498.0 259.5L502.3 262.3L504.4 265.9L500.8 270.6M498.0 259.5L505.1 258.8L511.5 253.8L515.0 252.4L517.1 246.8L518.6 241.1L523.5 239.0L527.8 237.1M495.9 243.9L500.8 241.8L505.1 237.5L508.6 239.0L512.2 236.8L516.4 237.5L522.1 236.1L527.8 237.1M476.0 228.3L478.9 225.5L479.6 223.4L484.5 224.8L487.4 226.9L490.9 226.9L493.0 230.5L498.0 233.3L502.3 236.1L505.1 237.5M479.6 223.4L478.9 219.1L483.1 217.7L488.1 219.8L493.0 222.7L499.4 222.0L503.0 224.8L505.8 229.0L509.3 228.3L512.2 226.2L517.8 224.8L526.3 225.2L531.3 226.2M531.3 226.2L527.8 229.0L522.1 230.5L519.3 232.6L515.0 231.9L511.5 233.3L508.6 231.9L507.2 234.0L511.5 233.7L515.0 232.3L519.3 232.9L522.1 236.1M531.3 226.2L532.0 221.3L534.1 217.0L532.7 214.2L536.3 212.0L539.1 208.5M522.1 230.9L520.7 234.0L522.8 236.1L527.8 237.1L530.6 242.5L535.6 246.8L536.3 251.0L539.1 254.5L541.9 257.4M530.6 242.5L529.2 245.3L524.9 246.8L524.2 248.9L527.8 252.4L526.3 258.1L522.1 262.3L518.6 265.9L520.7 269.4L522.8 273.7L517.8 274.4M527.8 237.1L532.0 239.0L535.6 242.5L535.6 246.8M541.3 257.7L544.1 257.0L550.5 259.8L556.1 262.6L560.4 264.0L561.1 266.9L555.4 266.9L548.3 264.0L542.7 261.2L541.3 257.7M530.6 244.2L534.9 246.3L536.3 251.3L541.3 257.7M560.4 264.0L561.8 263.3L566.8 262.6L568.2 265.5L562.5 265.9L561.1 266.9M566.8 262.6L572.4 260.5L576.7 259.8L578.8 262.6M563.9 277.5L562.5 274.0L561.1 270.4L561.1 268.3L563.2 266.9L568.2 269.7L570.3 271.8L568.9 274.0L570.3 277.5M578.8 262.6L576.7 266.9L574.5 271.1L572.4 274.7L571.0 278.9L571.7 281.8M578.8 262.6L580.9 262.6L583.0 266.2L582.3 270.4L584.5 274.0L588.0 277.5L590.8 280.3M590.8 280.3L587.3 283.9L584.5 288.1L586.6 293.1L588.0 298.8L590.1 302.3L589.4 305.8M590.8 280.3L593.0 278.9L597.2 276.1L601.5 276.1L605.0 278.2L608.6 280.3L610.7 281.0M601.5 276.1L600.8 281.8L603.6 284.6L602.2 288.1L606.4 293.1L608.6 297.3L607.8 300.2M590.8 280.3L591.6 284.6L593.7 289.5L597.9 288.1L601.5 291.0L602.9 295.9L603.6 299.5M597.2 300.5L597.9 299.5L603.6 299.5L607.8 300.2L608.6 304.4L605.0 308.0M590.8 314.3L593.7 316.5M460.4 295.1L460.9 291.4L465.2 290.3L470.5 291.4L473.7 288.2L481.2 286.6L483.3 293.0M481.2 286.6L487.6 284.5L488.6 278.6L487.6 277.0L480.1 275.9L479.1 272.7M487.6 277.0L488.6 271.7L489.2 269.3M448.7 251.9L454.5 255.7L462.0 260.5L466.8 260.5L470.5 258.5M466.8 260.5L467.9 258.3L470.3 257.8M476.6 270.6L477.5 270.9M441.0 242.4L442.4 245.6L441.7 249.1L441.0 252.6L440.3 256.2L439.7 262.9M438.2 255.5L440.1 258.6M442.4 245.6L443.5 243.5L442.1 241.7M453.7 239.6L453.0 244.2L451.6 246.6L448.8 249.1L443.1 251.6L441.7 250.2M448.8 249.1L450.2 251.9L446.6 253.3L444.5 254.1L447.3 256.9L444.2 259.3L441.0 260.4L440.3 258.3M434.3 259.0L438.2 264.6"/>
<path fill="none" stroke="#8a7a50" stroke-width="0.4" d="M223.0 214.0L220.0 214.0L217.0 216.0L206.0 221.0L194.0 225.0L189.0 227.0L193.0 223.0L190.0 218.0L184.0 211.4L173.0 209.0L172.0 208.0L171.0 209.0L114.0 209.0M105.0 250.6L115.0 253.0L124.0 254.4L127.0 253.4L131.0 255.0L134.0 260.0L136.0 259.4L139.0 259.0L142.0 264.0L143.0 268.0M128.0 159.2L104.4 180.9L105.1 183.3L107.2 184.7L110.1 184.0L112.2 183.3L113.6 186.8L113.6 191.8"/>
</g>
<!--/MAP-->
<!--LEGEND-->
<defs><pattern id="hl" width="3.3" height="3.3" patternUnits="userSpaceOnUse" patternTransform="rotate(45)"><rect width="3.3" height="3.3" fill="#fff"/><line x1="1.65" y1="0" x2="1.65" y2="3.3" stroke="#e2e2e2" stroke-width="1.4"/></pattern><pattern id="hm" width="3.1" height="3.1" patternUnits="userSpaceOnUse" patternTransform="rotate(40)"><rect width="3.1" height="3.1" fill="#fff"/><line x1="1.55" y1="0" x2="1.55" y2="3.1" stroke="#efefef" stroke-width="1.5"/></pattern></defs>
<g font-family="Liberation Sans, sans-serif" font-size="13" fill="#5b5b5b" text-anchor="middle">
<rect x="186.3" y="537.2" width="47.5" height="11.2" fill="url(#hl)" stroke="#bbb" stroke-width="0.8"/>
<line x1="210" y1="534.5" x2="210" y2="537" stroke="#ccc" stroke-width="0.8"/>
<text x="210" y="530.3">No data</text>
<rect x="253.5" y="537.4" width="58.7" height="11" fill="#ffffb2"/>
<rect x="312.2" y="537.4" width="58.6" height="11" fill="#fed976"/>
<rect x="370.8" y="537.4" width="58.6" height="11" fill="#feb24c"/>
<rect x="429.4" y="537.4" width="58.5" height="11" fill="#fd8d3c"/>
<rect x="487.9" y="537.4" width="58.5" height="11" fill="#fc4e2a"/>
<rect x="546.4" y="537.4" width="58.5" height="11" fill="#e31a1c"/>
<path d="M604.9 537.4H658.6L663.6 542.9L658.6 548.4H604.9Z" fill="#b10026"/>
<path d="M253.5 537.4H658.6L663.6 542.9L658.6 548.4H253.5Z" fill="none" stroke="#999" stroke-opacity="0.6" stroke-width="0.6"/>
<line x1="253.5" y1="534.4" x2="253.5" y2="548.4" stroke="#777" stroke-opacity="0.7" stroke-width="0.8"/>
<text x="253.5" y="530.3">0</text>
<line x1="312.2" y1="534.4" x2="312.2" y2="548.4" stroke="#777" stroke-opacity="0.7" stroke-width="0.8"/>
<text x="312.2" y="530.3">1</text>
<line x1="370.8" y1="534.4" x2="370.8" y2="548.4" stroke="#777" stroke-opacity="0.7" stroke-width="0.8"/>
<text x="370.8" y="530.3">5</text>
<line x1="429.4" y1="534.4" x2="429.4" y2="548.4" stroke="#777" stroke-opacity="0.7" stroke-width="0.8"/>
<text x="429.4" y="530.3">10</text>
<line x1="487.9" y1="534.4" x2="487.9" y2="548.4" stroke="#777" stroke-opacity="0.7" stroke-width="0.8"/>
<text x="487.9" y="530.3">25</text>
<line x1="546.4" y1="534.4" x2="546.4" y2="548.4" stroke="#777" stroke-opacity="0.7" stroke-width="0.8"/>
<text x="546.4" y="530.3">50</text>
<line x1="604.9" y1="534.4" x2="604.9" y2="548.4" stroke="#777" stroke-opacity="0.7" stroke-width="0.8"/>
<text x="604.9" y="530.3">100</text>
</g>
<!--/LEGEND-->
</svg>
<div id="foot"><b style="letter-spacing:-0.5px">Data source:</b> World Health Organization (2026); Population based on various sources (2024)</div>
<div id="foot2">OurWorldinData.org/coronavirus | CC BY</div>
</body></html>
